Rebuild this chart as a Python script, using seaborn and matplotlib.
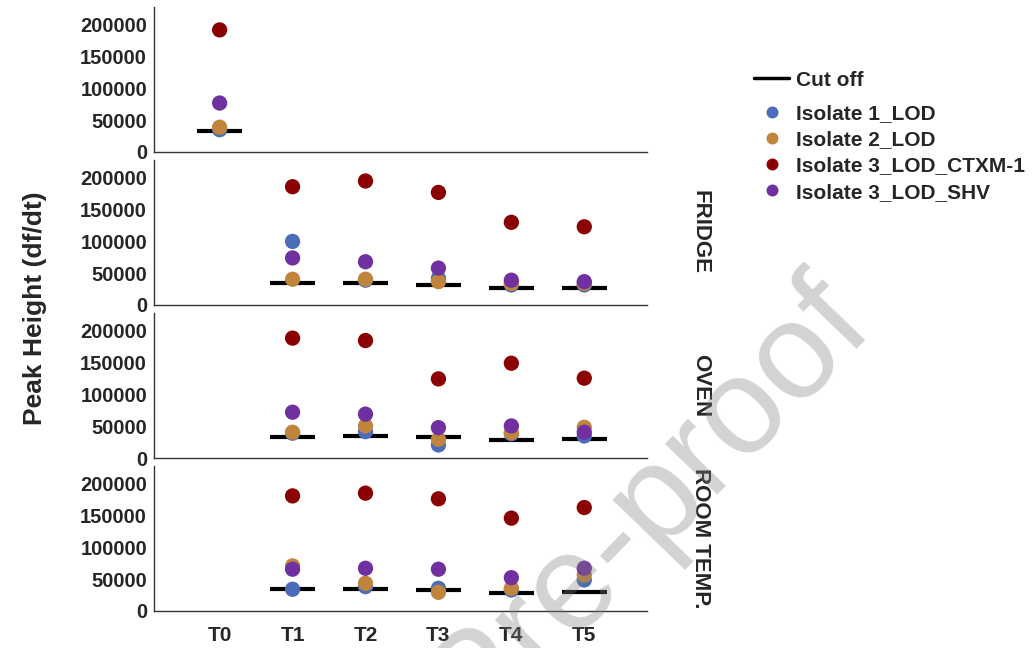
import matplotlib
matplotlib.use("Agg")
import matplotlib.pyplot as plt
import pandas as pd
import seaborn as sns
from matplotlib.lines import Line2D

TIMES = ["T0", "T1", "T2", "T3", "T4", "T5"]
LATER = ["T1", "T2", "T3", "T4", "T5"]
ISOLATES = ["Isolate 1_LOD", "Isolate 2_LOD", "Isolate 3_LOD_CTXM-1", "Isolate 3_LOD_SHV"]
COLORS = ["#4A6CB9", "#C0843C", "#8B0000", "#7030A0"]

# baseline (T0) panel
t0_iso1 = [35000]
t0_iso2 = [39000]
t0_ctx = [192000]
t0_shv = [77000]
t0_cut = [33000]

fridge_iso1 = [100000, 39000, 42000, 31500, 31500]
fridge_iso2 = [40500, 40500, 36700, 34000, 34000]
fridge_ctx = [186000, 195000, 177000, 130000, 123000]
fridge_shv = [74000, 68000, 58000, 39000, 36700]
fridge_cut = [35000, 34000, 31500, 27000, 27000]

oven_iso1 = [39000, 41400, 20500, 38000, 34600]
oven_iso2 = [40500, 50400, 29400, 39800, 48300]
oven_ctx = [188500, 184700, 124400, 149000, 125500]
oven_shv = [72000, 69000, 47700, 50400, 40500]
oven_cut = [33500, 34600, 32600, 28300, 29400]

room_iso1 = [34200, 38300, 35700, 33000, 48800]
room_iso2 = [70900, 43600, 29400, 35700, 56700]
room_ctx = [181000, 185300, 176400, 146000, 162700]
room_shv = [65700, 67200, 65700, 52400, 67200]
room_cut = [35100, 35100, 33000, 27900, 29400]

panels = [
    ("", ["T0"], [t0_iso1, t0_iso2, t0_ctx, t0_shv], t0_cut),
    ("FRIDGE", LATER, [fridge_iso1, fridge_iso2, fridge_ctx, fridge_shv], fridge_cut),
    ("OVEN", LATER, [oven_iso1, oven_iso2, oven_ctx, oven_shv], oven_cut),
    ("ROOM TEMP.", LATER, [room_iso1, room_iso2, room_ctx, room_shv], room_cut),
]

sns.set_theme(style="white")
plt.rcParams["font.family"] = ["Liberation Sans", "DejaVu Sans"]
plt.rcParams["font.weight"] = "bold"

fig = plt.figure(figsize=(10.32, 6.48), dpi=100)
W, H = 1032, 648
bottoms = [152, 305, 458, 611]

for i, (name, times, series, cut) in enumerate(panels):
    ax = fig.add_axes([154 / W, 1 - bottoms[i] / H, 493 / W, 145 / H])
    rows = []
    for iso, vals in zip(ISOLATES, series):
        for t, v in zip(times, vals):
            rows.append({"time": t, "value": v, "isolate": iso})
    df = pd.DataFrame(rows)

    pos = [TIMES.index(t) for t in times]
    ax.hlines(cut, [p - 0.31 for p in pos], [p + 0.31 for p in pos],
              color="black", lw=3, zorder=2)
    sns.stripplot(data=df, x="time", y="value", hue="isolate", order=TIMES,
                  hue_order=ISOLATES, palette=COLORS, jitter=False, size=11,
                  linewidth=0, legend=False, ax=ax, zorder=3)

    ax.set_xlim(-0.9, 5.86)
    ax.set_ylim(0, 228000)
    ax.set_yticks([0, 50000, 100000, 150000, 200000])
    ax.set_yticklabels(["0", "50000", "100000", "150000", "200000"],
                       fontsize=14.5, fontweight="bold")
    ax.set_xlabel("")
    ax.set_ylabel("")
    for s in ["top", "right"]:
        ax.spines[s].set_visible(False)
    for s in ["left", "bottom"]:
        ax.spines[s].set_color("#333333")
        ax.spines[s].set_linewidth(1.0)
    ax.tick_params(axis="y", length=0, pad=5)
    if i < 3:
        ax.tick_params(axis="x", length=0, labelbottom=False)
    else:
        ax.tick_params(axis="x", length=0, pad=11)
        for lab in ax.get_xticklabels():
            lab.set_fontsize(15)
            lab.set_fontweight("bold")
    if name:
        ax.text(1.108, 0.5, name, transform=ax.transAxes, rotation=-90,
                ha="center", va="center", fontsize=16, fontweight="bold")

fig.text(35 / W, 1 - 308 / H, "Peak Height (df/dt)", rotation=90,
         ha="center", va="center", fontsize=19, fontweight="bold")

cut_handle = [Line2D([], [], color="black", lw=2.5)]
fig.legend(cut_handle, ["Cut off"], loc="center left",
           bbox_to_anchor=(754 / W, 1 - 80 / H), frameon=False,
           borderpad=0, borderaxespad=0, handlelength=1.7,
           handletextpad=0.33, prop={"weight": "bold", "size": 15})
iso_handles = [Line2D([], [], marker="o", ls="", markersize=8.6, color=c,
                      markeredgewidth=0) for c in COLORS]
fig.legend(iso_handles, ISOLATES, loc="center left",
           bbox_to_anchor=(754 / W, 1 - 153 / H), frameon=False,
           borderpad=0, borderaxespad=0, handlelength=1.7,
           handletextpad=0.33, labelspacing=0.34,
           prop={"weight": "bold", "size": 15})

# watermark of the source page
fig.text(876 / W, 1 - 330 / H, "Journal Pre-proof", rotation=46,
         rotation_mode="anchor", ha="right", va="baseline", fontsize=99,
         fontweight="normal", color="#808080", alpha=0.35, zorder=10)

fig.savefig("out.png", dpi=100)
plt.close(fig)
